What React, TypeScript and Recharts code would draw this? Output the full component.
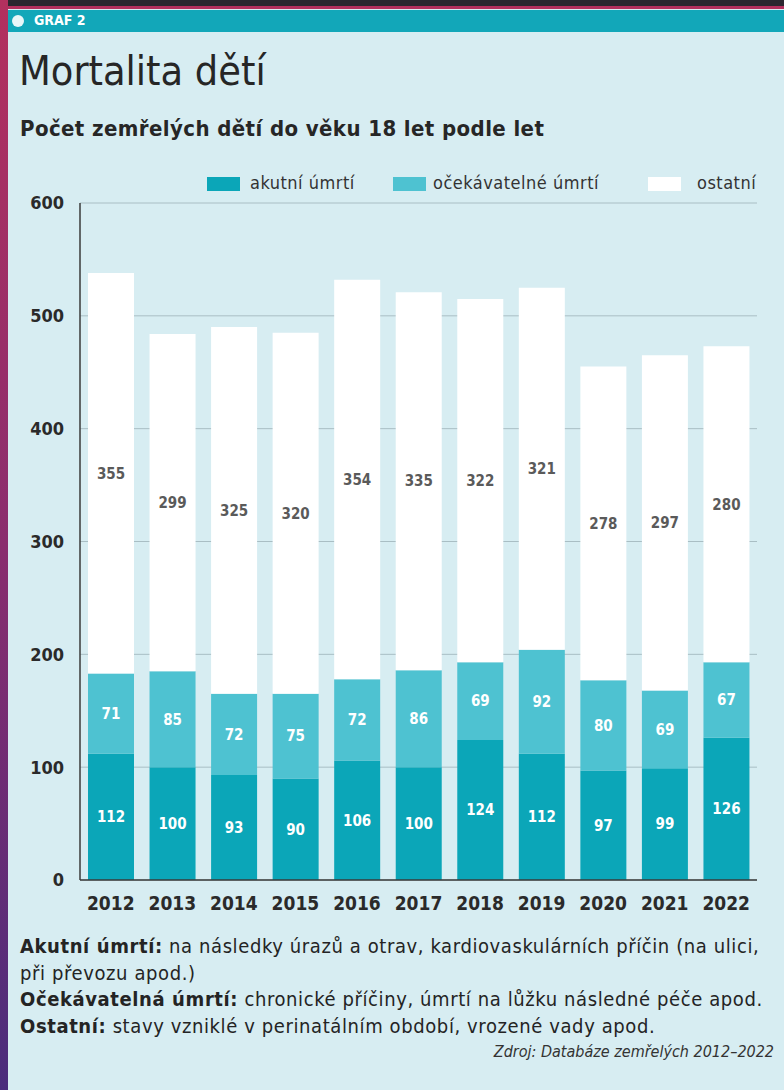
import React from "react";
import { Bar, BarChart, CartesianGrid, LabelList, XAxis, YAxis } from "recharts";

const years = ["2012", "2013", "2014", "2015", "2016", "2017", "2018", "2019", "2020", "2021", "2022"];
const akutni = [112, 100, 93, 90, 106, 100, 124, 112, 97, 99, 126];
const ocekavatelne = [71, 85, 72, 75, 72, 86, 69, 92, 80, 69, 67];
const ostatni = [355, 299, 325, 320, 354, 335, 322, 321, 278, 297, 280];
const yTicks = [0, 100, 200, 300, 400, 500, 600];

const series = [
  { key: "akutni", name: "akutní úmrtí", color: "#0ba6b8", labelColor: "#ffffff" },
  { key: "ocekavatelne", name: "očekávatelné úmrtí", color: "#4ec2d1", labelColor: "#ffffff" },
  { key: "ostatni", name: "ostatní", color: "#ffffff", labelColor: "#5a5a5a" },
];

// legend item placement (swatch x, text x)
const legendPos = [
  { swatch: 207, text: 250 },
  { swatch: 393, text: 433 },
  { swatch: 648, text: 697 },
];

const data = years.map((year, i) => ({
  year,
  akutni: akutni[i],
  ocekavatelne: ocekavatelne[i],
  ostatni: ostatni[i],
}));

const notes = [
  { head: "Akutní úmrtí:", text: " na následky úrazů a otrav, kardiovaskulárních příčin (na ulici,", cont: "při převozu apod.)" },
  { head: "Očekávatelná úmrtí:", text: " chronické příčiny, úmrtí na lůžku následné péče apod." },
  { head: "Ostatní:", text: " stavy vzniklé v perinatálním období, vrozené vady apod." },
];

const font = '"DejaVu Sans Condensed", "Liberation Sans Narrow", "DejaVu Sans", sans-serif';

export default function App() {
  return (
    <div
      style={{
        position: "absolute",
        left: 0,
        top: 0,
        width: 784,
        height: 1090,
        background: "#d7edf2",
        fontFamily: font,
        color: "#242424",
        overflow: "hidden",
      }}
    >
      {/* photo edges */}
      <div style={{ position: "absolute", left: 0, top: 0, width: 784, height: 6, background: "#2b2730" }} />
      <div style={{ position: "absolute", left: 0, top: 6, width: 784, height: 3, background: "#b3305e" }} />
      <div
        style={{
          position: "absolute",
          left: 0,
          top: 0,
          width: 8,
          height: 1090,
          background: "linear-gradient(#b3305e, #8a2d6e 50%, #4a2c7c)",
        }}
      />
      {/* header bar */}
      <div style={{ position: "absolute", left: 8, top: 10, width: 776, height: 22, background: "#12a7b9" }}>
        <div
          style={{
            position: "absolute",
            left: 4,
            top: 5,
            width: 12,
            height: 12,
            borderRadius: 6,
            background: "#e8f6f8",
          }}
        />
        <div
          style={{
            position: "absolute",
            left: 26,
            top: 2,
            fontSize: 14,
            fontWeight: 700,
            color: "#ffffff",
          }}
        >
          GRAF 2
        </div>
      </div>

      <div style={{ position: "absolute", left: 19, top: 46, fontSize: 41, lineHeight: "50px", color: "#262626" }}>
        Mortalita dětí
      </div>
      <div
        style={{
          position: "absolute",
          left: 20,
          top: 116,
          fontSize: 22,
          fontWeight: 700,
          letterSpacing: 0.4,
          color: "#262626",
        }}
      >
        Počet zemřelých dětí do věku 18 let podle let
      </div>

      {/* legend */}
      {series.map((s, i) => (
        <React.Fragment key={s.key}>
          <div
            style={{
              position: "absolute",
              left: legendPos[i].swatch,
              top: 177,
              width: 33,
              height: 14,
              background: s.color,
            }}
          />
          <div
            style={{
              position: "absolute",
              left: legendPos[i].text,
              top: 172,
              fontSize: 18,
              letterSpacing: 0.5,
              color: "#333",
            }}
          >
            {s.name}
          </div>
        </React.Fragment>
      ))}

      <div style={{ position: "absolute", left: 0, top: 190 }}>
        <BarChart
          width={784}
          height={730}
          data={data}
          margin={{ top: 13, right: 27, bottom: 0, left: 0 }}
          barSize={46}
        >
          <CartesianGrid vertical={false} stroke="#a9bec4" />
          <XAxis
            dataKey="year"
            tickLine={false}
            axisLine={{ stroke: "#3a3a3a", strokeWidth: 1.5 }}
            tick={{ fill: "#2a2a2a", fontSize: 19, fontWeight: 700, fontFamily: font }}
            tickMargin={11}
            height={40}
          />
          <YAxis
            domain={[0, 600]}
            ticks={yTicks}
            tickLine={false}
            axisLine={{ stroke: "#3a3a3a", strokeWidth: 1.5 }}
            tick={{ fill: "#2a2a2a", fontSize: 18, fontWeight: 700, fontFamily: font }}
            tickMargin={10}
            width={80}
          />
          {series.map((s) => (
            <Bar key={s.key} dataKey={s.key} name={s.name} stackId="a" fill={s.color} isAnimationActive={false}>
              <LabelList
                dataKey={s.key}
                position="center"
                fill={s.labelColor}
                fontSize={15}
                fontWeight={700}
                fontFamily={font}
              />
            </Bar>
          ))}
        </BarChart>
      </div>

      {/* notes */}
      <div
        style={{
          position: "absolute",
          left: 20,
          top: 933,
          width: 764,
          fontSize: 20,
          letterSpacing: 0.6,
          lineHeight: "26.5px",
          color: "#242424",
          whiteSpace: "nowrap",
        }}
      >
        {notes.map((n) => (
          <React.Fragment key={n.head}>
            <div>
              <b>{n.head}</b>
              {n.text}
            </div>
            {n.cont && <div>{n.cont}</div>}
          </React.Fragment>
        ))}
      </div>
      <div
        style={{
          position: "absolute",
          right: 10,
          top: 1042,
          fontSize: 16,
          fontStyle: "italic",
          color: "#333",
        }}
      >
        Zdroj: Databáze zemřelých 2012–2022
      </div>
    </div>
  );
}
